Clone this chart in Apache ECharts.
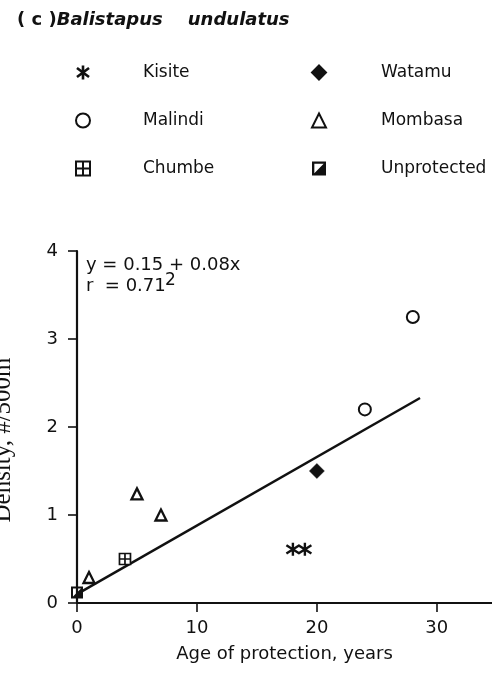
<!DOCTYPE html>
<html><head><meta charset="utf-8">
<script src="https://cdn.jsdelivr.net/npm/echarts@6/dist/echarts.min.js"></script>
<style>html,body{margin:0;padding:0;background:#fff}#c{width:492px;height:690px}</style>
</head><body><div id="c"></div>
<script>
// Data
const kisiteX = [18, 19];
const kisiteY = [0.61, 0.61];
const malindiX = [24, 28];
const malindiY = [2.2, 3.25];
const chumbeX = [4];
const chumbeY = [0.5];
const watamuX = [20];
const watamuY = [1.5];
const mombasaX = [1, 5, 7];
const mombasaY = [0.29, 1.24, 1.0];
const unprotX = [0];
const unprotY = [0.12];
const fitX = [0, 28.6];
const fitY = [0.1, 2.33];
const xTicks = [0, 10, 20, 30];
const yTicks = [0, 1, 2, 3, 4];

const zip = (xs, ys) => xs.map((x, i) => [x, ys[i]]);
const F = 'DejaVu Sans';
const ink = '#111';

const STAR = 'path://M5 0V10M0.7 1.8L9.3 8.2M9.3 1.8L0.7 8.2';
const CHUMBE = 'path://M0 0H10V10H0ZM5 0V10M0 5H10';
const UNPROT = 'path://M0 0H12V12H0ZM2 2V10H10V2ZM10 2L10 10L2 10Z';

function sc(name, data, symbol, size, fill, bw) {
  return {
    type: 'scatter', name, data, symbol, symbolSize: size, clip: false, z: 5,
    itemStyle: { color: fill, borderColor: ink, borderWidth: bw, opacity: 1 },
    emphasis: { disabled: true }
  };
}

const chart = echarts.init(document.getElementById('c'), null, { renderer: 'canvas' });
chart.setOption({
  animation: false,
  backgroundColor: '#fff',
  title: {
    left: 12, top: 6,
    text: '{a|( c )}{b|Balistapus    undulatus}',
    textStyle: {
      rich: {
        a: { fontFamily: F, fontSize: 18, fontWeight: 'bold', color: ink },
        b: { fontFamily: F, fontSize: 18, fontWeight: 'bold', fontStyle: 'italic', color: ink }
      }
    }
  },
  legend: [
    {
      data: [{ name: 'Kisite', itemStyle: { borderWidth: 2.6, borderColor: ink } }, 'Malindi', 'Chumbe'],
      orient: 'vertical', left: 75, top: 64, padding: 0,
      itemWidth: 14, itemHeight: 14, itemGap: 31, selectedMode: false,
      textStyle: { fontFamily: F, fontSize: 17, color: ink, lineHeight: 14, padding: [0, 0, 0, 48] }
    },
    {
      data: ['Watamu', 'Mombasa', 'Unprotected'], orient: 'vertical', left: 311, top: 64, padding: 0,
      itemWidth: 14, itemHeight: 14, itemGap: 31, selectedMode: false,
      textStyle: { fontFamily: F, fontSize: 17, color: ink, lineHeight: 14, padding: [0, 0, 0, 50] }
    }
  ],
  grid: { left: 77, right: 0, top: 251, bottom: 87, containLabel: false },
  xAxis: {
    type: 'value', min: 0, max: 34.6, interval: 10,
    name: 'Age of protection, years', nameLocation: 'middle', nameGap: 42,
    nameTextStyle: { fontFamily: F, fontSize: 18, color: ink },
    axisLine: { lineStyle: { color: ink, width: 2.2 } },
    axisTick: { length: 9, lineStyle: { color: ink, width: 1.6 }, customValues: xTicks },
    axisLabel: { fontFamily: F, fontSize: 18, color: ink, margin: 16, customValues: xTicks },
    splitLine: { show: false }
  },
  yAxis: {
    type: 'value', min: 0, max: 4, interval: 1,
    axisLine: { show: true, lineStyle: { color: ink, width: 2.2 } },
    axisTick: { show: true, length: 9, lineStyle: { color: ink, width: 1.6 }, customValues: yTicks },
    axisLabel: { fontFamily: F, fontSize: 18, color: ink, margin: 19, customValues: yTicks },
    splitLine: { show: false }
  },
  graphic: [
    { type: 'text', left: 86, top: 256, style: { text: 'y = 0.15 + 0.08x', font: '18px "DejaVu Sans"', fill: ink } },
    { type: 'text', left: 86, top: 277, style: { text: 'r  = 0.71', font: '18px "DejaVu Sans"', fill: ink } },
    { type: 'text', left: 165, top: 272, style: { text: '2', font: '17px "DejaVu Sans"', fill: ink } },
    { type: 'text', x: 3, y: 440, rotation: Math.PI / 2,
      style: { text: 'Density, #/500m', font: '25px "Liberation Serif"', fill: ink, align: 'center', verticalAlign: 'middle' } }
  ],
  series: [
    {
      type: 'line', name: 'fit', data: zip(fitX, fitY), symbol: 'none', z: 3,
      lineStyle: { color: ink, width: 2.5 }, emphasis: { disabled: true }
    },
    sc('Kisite', zip(kisiteX, kisiteY), STAR, 13, ink, 2.4),
    sc('Malindi', zip(malindiX, malindiY), 'circle', 12, '#fff', 2),
    sc('Chumbe', zip(chumbeX, chumbeY), CHUMBE, 11, '#fff', 1.7),
    sc('Watamu', zip(watamuX, watamuY), 'diamond', 15, ink, 0.5),
    sc('Mombasa', zip(mombasaX, mombasaY), 'triangle', 11, '#fff', 2.3),
    sc('Unprotected', zip(unprotX, unprotY), UNPROT, 12, ink, 0)
  ]
});
</script>
</body></html>
